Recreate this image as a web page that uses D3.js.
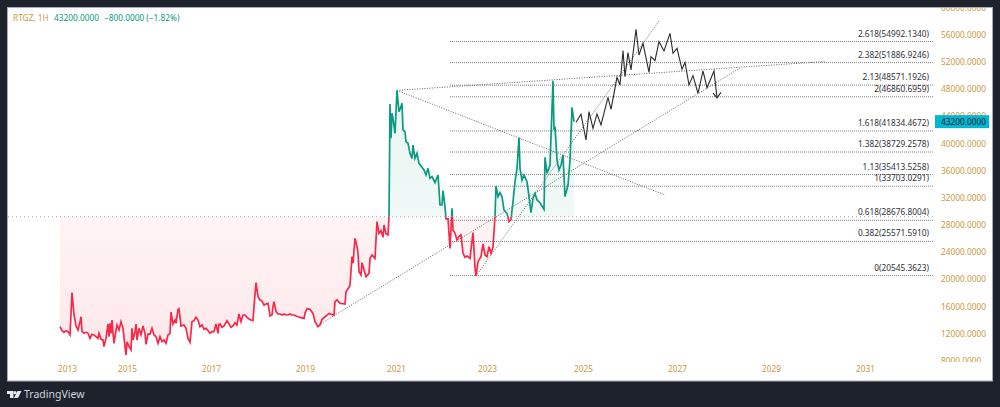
<!DOCTYPE html>
<html>
<head>
<meta charset="utf-8">
<script src="https://cdn.jsdelivr.net/npm/d3@7"></script>
<style>
  html, body { margin: 0; padding: 0; background: #1e222d; }
  text { font-family: "Noto Sans", sans-serif; }
</style>
</head>
<body>
<div id="chart"></div>
<script>
// bar number on the time axis and the closing price for it
var closeBars = [0,2,4,6,8,10,12,14,16,18,20,21,22,24,26,28,30,32,34,36,38,39,41,43,44,46,48,49,50,51,52,53,54,56,57,59,61,63,65,66,67,69,71,72,73,75,76,77,79,81,83,85,86,88,90,92,94,96,98,100,102,104,106,108,110,111,113,115,116,118,119,121,124,126,128,130,132,134,136,138,140,142,144,146,148,150,152,154,156,158,159,160,162,164,167,169,171,173,175,177,179,181,183,185,187,189,191,193,194,196,198,200,202,204,206,208,210,212,213,214,216,218,220,222,224,226,228,230,232,234,236,238,240,244,245,247,250,253,255,258,260,262,266,269,274,275,277,280,285,286,289,290,292,293,295,297,298,299,301,302,304,306,309,310,312,315,317,319,321,323,324,326,328,329,330,331,332,333,335,337,339,341,342,343,345,346,348,350,352,353,355,357,359,361,364,366,368,370,372,375,378,380,382,383,385,386,388,390,392,393,395,397,399,401,403,405,407,410,413,415,416,418,421,423,425,427,429,431,433,435,436,438,440,442,444,447,449,451,453,455,457,459,460,462,464,467,469,471,473,475,477,480,484,485,487,490,491,493,494,495,497,499,501,503,505,508,510,512,514];
var closeValues = [13020,12430,12190,12430,12290,11800,18030,14740,13120,12530,13760,14490,12290,12040,12190,12040,11300,11890,11800,11550,11300,12040,11160,11060,10080,11300,13410,11550,13510,12040,14000,12040,10570,12530,13270,12530,13760,12780,10080,8850,10810,10080,9590,12780,11060,12290,13410,11060,12780,11800,13120,12040,10420,11940,11940,12780,11800,11550,10570,11550,10810,11060,10570,11800,12040,15180,13410,14000,13510,15570,15670,13120,13270,12780,11300,10720,13760,13900,14400,14000,13020,13270,12630,12780,12430,12040,12290,12290,13410,12040,13370,13410,12920,13120,13900,13410,12920,13120,13610,13270,14890,13760,14740,14740,14400,14150,14000,13900,15970,19500,17440,16950,16800,16210,16360,16460,14590,14740,15970,16700,15230,14890,14890,14740,14890,14740,14740,14890,14740,14740,14590,14490,14400,14250,14980,15670,15570,14980,13760,13020,13270,14100,14590,14980,14690,16700,16950,16460,16360,18170,18810,19160,23330,22350,26030,24800,23820,21120,20630,22440,21360,20380,20870,23080,23570,23080,28480,26760,27150,26170,27990,26660,26520,29210,45800,40750,44430,43690,41480,47800,44670,45410,45900,41970,41730,40250,40010,38540,37800,39760,37800,38540,37060,36670,36080,35350,36330,34860,35100,34220,35350,30930,30930,33040,30690,28900,28900,24550,30440,27250,26760,25780,26270,26520,23820,23230,23420,23080,26860,21610,20480,22590,23330,25190,23570,23330,24800,23820,24700,29210,33730,32160,32750,32160,30200,29700,28500,28800,31420,34370,36330,40840,36330,34610,35350,34370,32160,29800,31910,32650,31670,31270,30290,37950,35590,36820,41040,49200,41970,42460,37560,36080,36820,38290,32160,33870,37560,45310,43200];

// hand drawn projection after the last close
var projectionBars = [516,521,526,529,533,537,541,548,551,557,560,563,565,568,571,576,579,583,589,591,595,599,604,610,613,617,622,625,629,633,638,643,647,654,657];
var projectionValues = [43100,44280,40500,44670,42220,44330,42710,46780,45010,49720,48600,53650,49820,53360,50800,56790,53010,54730,50460,52770,52180,54970,53600,56200,53260,53990,50900,51930,48600,49970,47370,50660,48200,50660,46700];
var arrowBars = [653,657,661];
var arrowValues = [47400,46700,47500];

// fibonacci levels
var fibRatios = ["2.618","2.382","2.13","2","1.618","1.382","1.13","1","0.618","0.382","0"];
var fibValues = [54992.1340,51886.9246,48571.1926,46860.6959,41834.4672,38729.2578,35413.5258,33703.0291,28676.8004,25571.5910,20545.3623];
var fibStartBar = 390, fibEndBar = 874;

// trend lines as [bar, price] ends
var trendLines = [
  [[337,47800],[765,52055]],
  [[337,47800],[605,32404]],
  [[257,13120],[680,51100]],
  [[416,20480],[599,58000]]
];

var baseValue = 29210;
var lastValue = 43200;
var yearLabels = ["2013","2015","2017","2019","2021","2023","2025","2027","2029","2031"];
var yearBars = [7,67,151,245,336,427,523,617,711,805];
var priceTicks = [8000,12000,16000,20000,24000,28000,32000,36000,40000,44000,48000,52000,56000,60000];

var width = 1000, height = 407;
var gold = "#c99a3f", green = "#0b9a80", red = "#f7284a";
var labelSize = 8.3;

var svg = d3.select("#chart").append("svg")
  .attr("width", width).attr("height", height)
  .style("display", "block");

svg.append("rect").attr("width", width).attr("height", height).attr("fill", "#1e222d");
svg.append("rect").attr("x", 7.5).attr("y", 7.5).attr("width", 985).attr("height", 373.5)
  .attr("fill", "#fff").attr("stroke", "#a9acb5");

var x = d3.scaleLinear().domain([0, 933]).range([60, 993]);
var y = d3.scaleLinear().domain([8000, 60000]).range([360.8, 7.5]);

var closes = closeBars.map(function (b, i) { return [b, closeValues[i]]; });
var projection = projectionBars.map(function (b, i) { return [b, projectionValues[i]]; });
var arrow = arrowBars.map(function (b, i) { return [b, arrowValues[i]]; });

var line = d3.line().x(function (d) { return x(d[0]); }).y(function (d) { return y(d[1]); });
var area = d3.area()
  .x(function (d) { return x(d[0]); })
  .y0(y(baseValue))
  .y1(function (d) { return y(d[1]); });

var defs = svg.append("defs");
defs.append("clipPath").attr("id", "above").append("rect")
  .attr("x", 0).attr("y", 0).attr("width", width).attr("height", y(baseValue));
defs.append("clipPath").attr("id", "below").append("rect")
  .attr("x", 0).attr("y", y(baseValue)).attr("width", width).attr("height", height - y(baseValue));
// the clip lives in the translated axis group, so x starts at 0 here
defs.append("clipPath").attr("id", "priceClip").append("rect")
  .attr("x", 0).attr("y", 8).attr("width", 57).attr("height", 354);

var redGrad = defs.append("linearGradient").attr("id", "redFill")
  .attr("gradientUnits", "userSpaceOnUse")
  .attr("x1", 0).attr("x2", 0).attr("y1", y(baseValue)).attr("y2", y(10000));
redGrad.append("stop").attr("offset", 0).attr("stop-color", "#fff4f5");
redGrad.append("stop").attr("offset", 1).attr("stop-color", "#fde8ea");

var greenGrad = defs.append("linearGradient").attr("id", "greenFill")
  .attr("gradientUnits", "userSpaceOnUse")
  .attr("x1", 0).attr("x2", 0).attr("y1", y(48000)).attr("y2", y(baseValue));
greenGrad.append("stop").attr("offset", 0).attr("stop-color", "#e6f5f1");
greenGrad.append("stop").attr("offset", 1).attr("stop-color", "#f1f9f7");

// baseline fills
svg.append("path").datum(closes).attr("d", area).attr("fill", "url(#greenFill)").attr("clip-path", "url(#above)");
svg.append("path").datum(closes).attr("d", area).attr("fill", "url(#redFill)").attr("clip-path", "url(#below)");

// baseline
svg.append("line")
  .attr("x1", 8).attr("x2", 934)
  .attr("y1", y(baseValue)).attr("y2", y(baseValue))
  .attr("stroke", "#a8abb4").attr("stroke-dasharray", "1 3");

// fib levels
var fib = svg.append("g");
fibValues.forEach(function (v, i) {
  fib.append("line")
    .attr("x1", x(fibStartBar)).attr("x2", x(fibEndBar))
    .attr("y1", y(v)).attr("y2", y(v))
    .attr("stroke", "#808080").attr("stroke-dasharray", "1 1");
  fib.append("text")
    .attr("x", x(fibEndBar) - 5).attr("y", y(v) - 5)
    .attr("text-anchor", "end")
    .attr("font-size", labelSize)
    .attr("fill", "#2f3138")
    .text(fibRatios[i] + "(" + d3.format(".4f")(v) + ")");
});

// trend lines
svg.selectAll(".trend").data(trendLines).enter().append("path")
  .attr("class", "trend")
  .attr("d", line)
  .attr("fill", "none")
  .attr("stroke", "#666")
  .attr("stroke-dasharray", "1 1.5");

// price line, coloured by side of the baseline
svg.append("path").datum(closes).attr("d", line)
  .attr("fill", "none").attr("stroke", green).attr("stroke-width", 1.7)
  .attr("clip-path", "url(#above)");
svg.append("path").datum(closes).attr("d", line)
  .attr("fill", "none").attr("stroke", red).attr("stroke-width", 1.7)
  .attr("clip-path", "url(#below)");

// projection
svg.append("path").datum(projection).attr("d", line)
  .attr("fill", "none").attr("stroke", "#2a2a2e").attr("stroke-width", 1.1);
svg.append("path").datum(arrow).attr("d", line)
  .attr("fill", "none").attr("stroke", "#2a2a2e").attr("stroke-width", 1.1);

// axes
var priceAxis = svg.append("g")
  .attr("transform", "translate(935,0)")
  .attr("clip-path", "url(#priceClip)")
  .call(d3.axisRight(y).tickValues(priceTicks).tickSize(0).tickPadding(6).tickFormat(d3.format(".4f")));
priceAxis.select(".domain").remove();
priceAxis.selectAll("text")
  .attr("fill", gold).attr("font-size", labelSize).style("font-family", '"Noto Sans", sans-serif');

var timeAxis = svg.append("g")
  .attr("transform", "translate(0,362)")
  .call(d3.axisBottom(x).tickValues(yearBars).tickSize(0).tickPadding(4)
    .tickFormat(function (d, i) { return yearLabels[i]; }));
timeAxis.select(".domain").remove();
timeAxis.selectAll("text")
  .attr("fill", gold).attr("font-size", labelSize).style("font-family", '"Noto Sans", sans-serif');

// last price tag
svg.append("rect").attr("x", 935).attr("y", y(lastValue) - 6.5).attr("width", 54).attr("height", 13).attr("fill", "#00b8d4");
svg.append("text").attr("x", 941).attr("y", y(lastValue) + 3)
  .attr("font-size", labelSize).attr("fill", "#14202b")
  .text(d3.format(".4f")(lastValue));

// header
svg.append("text").attr("x", 13).attr("y", 21).attr("font-size", labelSize).attr("fill", gold).text("RTGZ, 1H");
svg.append("text").attr("x", 54).attr("y", 21).attr("font-size", labelSize).attr("fill", green).text("43200.0000");
svg.append("text").attr("x", 104).attr("y", 21).attr("font-size", labelSize).attr("fill", green).text("\u2212800.0000 (\u22121.82%)");

// footer logo
var logo = svg.append("g").attr("fill", "#e8e9ee");
logo.append("path").attr("d", "M7 391H13.5V398H10V394H7Z");
logo.append("circle").attr("cx", 15).attr("cy", 392.7).attr("r", 1.6);
logo.append("path").attr("d", "M17.5 391H21.5L18 398H14Z");
svg.append("text").attr("x", 24).attr("y", 398).attr("font-size", 10.5).attr("fill", "#d1d4dc").text("TradingView");
</script>
</body>
</html>
